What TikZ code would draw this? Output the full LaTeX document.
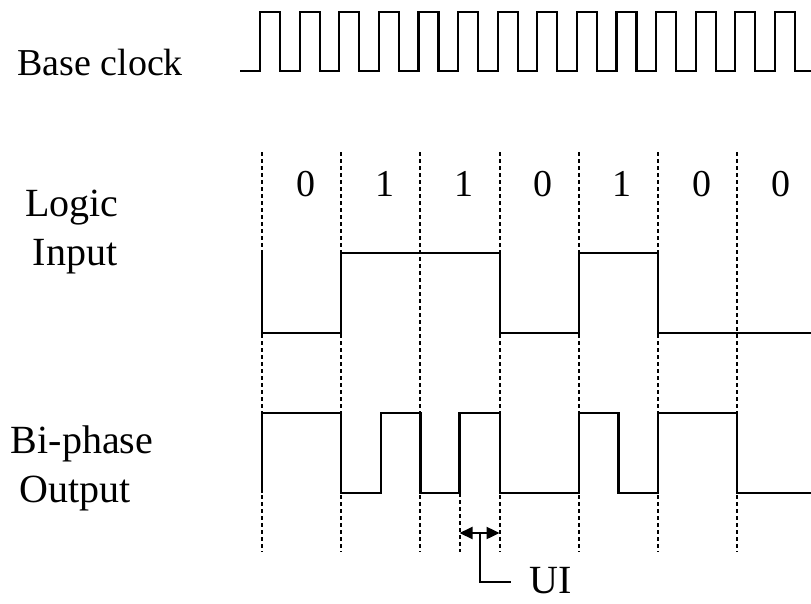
\documentclass[tikz,border=0pt]{standalone}
\usepackage{fontspec}
\setmainfont{Liberation Serif}
\usetikzlibrary{arrows.meta}
\tikzset{
  wave/.style={line width=2.2pt, line join=miter, line cap=butt},
  grid/.style={line width=2pt, dash pattern=on 3.5pt off 3.5pt},
  lbl/.style={inner sep=0pt, font=\fontsize{40}{48}\selectfont},
  digit/.style={inner sep=0pt, anchor=base, font=\fontsize{38}{46}\selectfont},
}
\begin{document}
\begin{tikzpicture}[x=1pt,y=-1pt]
\useasboundingbox (0,0) rectangle (811,603);
% labels
\node[lbl, anchor=base west, font=\fontsize{38}{46}\selectfont] (base) at (17,75) {Base clock};
\node[lbl, anchor=base] (logic) at (72,216) {Logic};
\node[lbl, anchor=base] (input) at (75,265) {Input};
\node[lbl, anchor=base] (biphase) at (82,453) {Bi-phase};
\node[lbl, anchor=base] (output) at (75,502) {Output};
% dashed bit boundaries
\foreach \i in {0,...,6} {
  \draw[grid] (262+79.2*\i,152) -- (262+79.2*\i,552);
}
\draw[grid] (459.5,493) -- (459.5,552);
% digits
\foreach \b [count=\i from 0] in {0,1,1,0,1,0,0} {
  \node[digit] (d\i) at (305.6+79.2*\i,196) {\b};
}
% base clock
\draw[wave] (240,71)
  \foreach \k in {0,...,13} { -- (260+39.6*\k,71) -- (260+39.6*\k,12) -- (280+39.6*\k,12) -- (280+39.6*\k,71) }
  -- (811,71);
% logic input
\draw[wave] (262,253) -- (262,333) -- (341.2,333) -- (341.2,253) -- (499.6,253) -- (499.6,333)
  -- (578.8,333) -- (578.8,253) -- (658,253) -- (658,333) -- (811,333);
% bi-phase output
\draw[wave] (262,493) -- (262,413) -- (341.2,413) -- (341.2,493) -- (380.8,493) -- (380.8,413)
  -- (420.4,413) -- (420.4,493) -- (459.5,493) -- (459.5,413) -- (499.6,413) -- (499.6,493)
  -- (578.8,493) -- (578.8,413) -- (618.4,413) -- (618.4,493) -- (658,493) -- (658,413)
  -- (737.2,413) -- (737.2,493) -- (811,493);
% UI marker
\coordinate (uiL) at (459.5,533);
\coordinate (uiR) at (499.6,533);
\coordinate (uiM) at (480,533);
\coordinate (uiC) at (511,582);
\draw[line width=2pt, {Triangle[length=13pt,width=12pt]}-{Triangle[length=13pt,width=12pt]}] (uiL) -- (uiR);
\draw[line width=2pt] (uiM) |- (uiC);
\node[lbl, anchor=base west] (ui) at (529,593) {UI};
\end{tikzpicture}
\end{document}
